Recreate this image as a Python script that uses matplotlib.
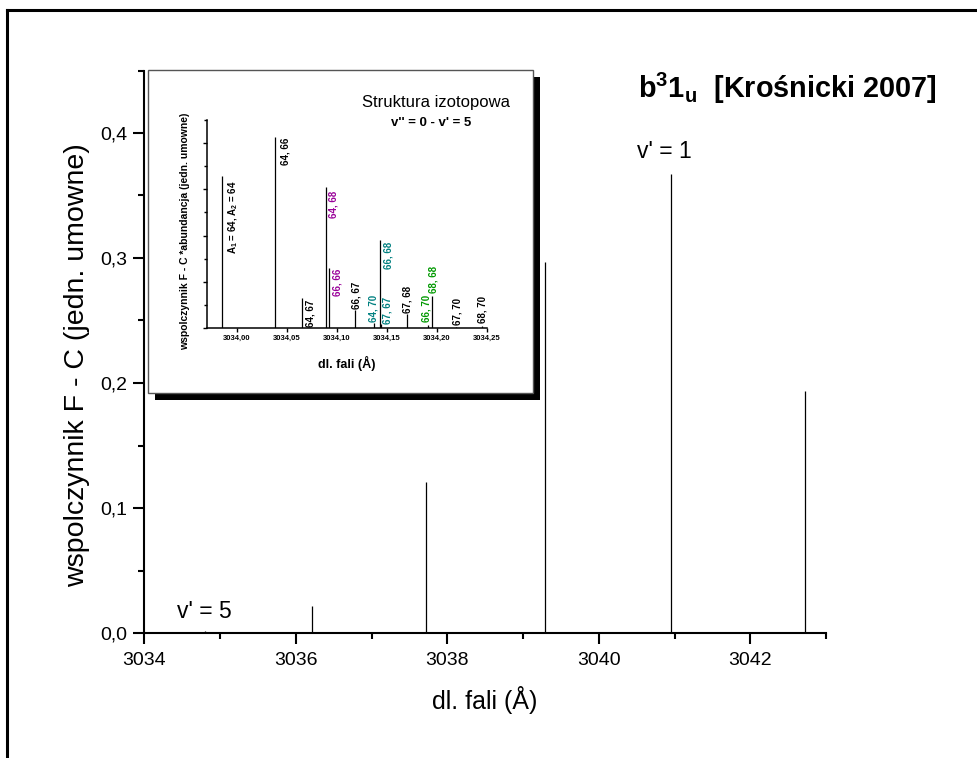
import matplotlib
matplotlib.use('Agg')
import matplotlib.pyplot as plt
from matplotlib.patches import Rectangle
from matplotlib.lines import Line2D
from matplotlib.ticker import MultipleLocator, FuncFormatter, FixedLocator
import matplotlib.transforms as mtransforms

plt.rcParams['font.family'] = ['Liberation Sans', 'DejaVu Sans']
plt.rcParams['mathtext.fontset'] = 'custom'
plt.rcParams['mathtext.rm'] = 'Liberation Sans'
plt.rcParams['mathtext.bf'] = 'Liberation Sans:bold'
plt.rcParams['mathtext.it'] = 'Liberation Sans:italic'

# ---------------- data ----------------
main_wavelengths = [3034.80, 3036.22, 3037.72, 3039.29, 3040.96, 3042.72]
main_values = [0.002, 0.022, 0.121, 0.297, 0.367, 0.194]
main_xticks = [3034, 3036, 3038, 3040, 3042]
main_yticks = [0.0, 0.1, 0.2, 0.3, 0.4]

iso_labels = [r'A$_\mathbf{1}$ = 64, A$_\mathbf{2}$ = 64', '64, 66', '64, 67', '64, 68', '66, 66',
              '66, 67', '64, 70', '66, 68', '67, 67', '67, 68', '66, 70', '68, 68',
              '67, 70', '68, 70']
iso_wavelengths = [3033.9856, 3034.0386, 3034.0650, 3034.0893, 3034.0923,
                   3034.1180, 3034.1376, 3034.1430, 3034.1445, 3034.1700,
                   3034.1916, 3034.1950, 3034.2193, 3034.2450]
iso_values = [0.328, 0.413, 0.065, 0.304, 0.130,
              0.040, 0.010, 0.190, 0.008, 0.030,
              0.007, 0.069, 0.003, 0.004]
iso_xticks = [3034.00, 3034.05, 3034.10, 3034.15, 3034.20, 3034.25]

# ---------------- style ----------------
BLACK, PURPLE, TEAL, GREEN = '#000000', '#990099', '#008080', '#009900'
iso_colors = [BLACK, BLACK, BLACK, PURPLE, PURPLE, BLACK, TEAL, TEAL, TEAL,
              BLACK, GREEN, GREEN, BLACK, BLACK]
# (mode, dx px, dy px)
iso_place = [('right', 4.5, -4), ('right', 5, -1), ('right', 4, -2), ('right', 2.5, -3),
             ('right', 4, -1), ('above', 1.5, 1), ('above', -1, 1), ('right', 4, -2),
             ('above', 6, 0), ('above', 1, 1), ('above', -2, 3), ('above', 2, 3),
             ('above', 1.5, 1.5), ('above', 1, 3)]

W, H = 978, 758
fig = plt.figure(figsize=(W / 100, H / 100), dpi=100)
fig.patch.set_facecolor('white')


def fx(px):
    return px / W


def fy(py):
    return 1 - py / H


def comma(fmt):
    return FuncFormatter(lambda v, p: format(v, fmt).replace('.', ','))


# ---------------- main axes ----------------
ax = fig.add_axes([fx(144.3), fy(633), fx(826) - fx(144.3), fy(70.5) - fy(633)])
ax.vlines(main_wavelengths, 0, main_values, color='black', lw=0.9)
ax.set_xlim(3034, 3043)
ax.set_ylim(0, 0.45)
for s in ('top', 'right'):
    ax.spines[s].set_visible(False)
for s in ('left', 'bottom'):
    ax.spines[s].set_linewidth(1.5)
ax.xaxis.set_major_locator(FixedLocator(main_xticks))
ax.xaxis.set_minor_locator(MultipleLocator(1))
ax.yaxis.set_major_locator(FixedLocator(main_yticks))
ax.yaxis.set_minor_locator(MultipleLocator(0.05))
ax.yaxis.set_major_formatter(comma('.1f'))
ax.xaxis.set_major_formatter(FuncFormatter(lambda v, p: f'{v:.0f}'))
ax.tick_params(which='major', length=8, width=1.5, labelsize=14, direction='out')
ax.tick_params(axis='x', which='major', pad=6)
ax.tick_params(axis='y', which='major', pad=4)
ax.tick_params(which='minor', length=4.5, width=1.5, direction='out')
ax.set_xlabel('dl. fali (Å)', fontsize=18)
ax.set_ylabel('wspolczynnik F - C (jedn. umowne)', fontsize=20.5)
ax.xaxis.set_label_coords(0.5, -0.094)
ax.yaxis.set_label_coords(-0.08, 0.476)

ax.text(3034.43, 0.017, "v' = 5", fontsize=16.5, ha='left', va='center')
ax.text(3040.51, 0.385, "v' = 1", fontsize=16.5, ha='left', va='center')

fig.text(fx(638), fy(88), r'$\mathbf{b^{3}1_{u}}$  [Krośnicki 2007]', fontsize=20.8,
         fontweight='bold', ha='left', va='center')

# ---------------- inset box ----------------
shadow = Rectangle((fx(155), fy(400)), fx(540) - fx(155), fy(77) - fy(400),
                   transform=fig.transFigure, facecolor='black', edgecolor='none', zorder=1.8)
box = Rectangle((fx(148), fy(393)), fx(533) - fx(148), fy(70) - fy(393),
                transform=fig.transFigure, facecolor='white', edgecolor='#555555', lw=1.0,
                zorder=1.9)
fig.add_artist(shadow)
fig.add_artist(box)

iax = fig.add_axes([fx(206.7), fy(328), fx(486.7) - fx(206.7), fy(120) - fy(328)])
iax.set_zorder(3)
iax.patch.set_visible(False)
iax.vlines(iso_wavelengths, 0, iso_values, color='black', lw=0.9)
iax.set_xlim(3033.97, 3034.25)
iax.set_ylim(0, 0.45)
for s in ('top', 'right'):
    iax.spines[s].set_visible(False)
for s in ('left', 'bottom'):
    iax.spines[s].set_linewidth(1.1)
iax.xaxis.set_major_locator(FixedLocator(iso_xticks))
iax.xaxis.set_major_formatter(comma('.2f'))
iax.yaxis.set_major_locator(MultipleLocator(0.1))
iax.yaxis.set_minor_locator(MultipleLocator(0.05))
iax.yaxis.set_major_formatter(FuncFormatter(lambda v, p: ''))
iax.tick_params(which='major', length=3.2, width=1.0, labelsize=5.5, direction='out', pad=2)
iax.tick_params(which='minor', length=2, width=1.0, direction='out')
for lab in iax.get_xticklabels():
    lab.set_fontweight('bold')
iax.set_xlabel('dl. fali (Å)', fontsize=9, fontweight='bold')
iax.set_ylabel('wspolczynnik F - C *abundancja (jedn. umowne)', fontsize=7.5, fontweight='bold')
iax.xaxis.set_label_coords(0.5, -0.135)
iax.yaxis.set_label_coords(-0.06, 0.466)

for lab, xv, yv, col, (mode, dx, dy) in zip(iso_labels, iso_wavelengths, iso_values,
                                            iso_colors, iso_place):
    off = mtransforms.offset_copy(iax.transData, fig=fig, x=dx, y=dy, units='dots')
    if mode == 'right':
        iax.text(xv, yv, lab, transform=off, rotation=90, ha='left', va='top',
                 fontsize=7, fontweight='bold', color=col)
    else:
        iax.text(xv, yv, lab, transform=off, rotation=90, ha='center', va='bottom',
                 fontsize=7, fontweight='bold', color=col)

fig.text(fx(436), fy(103), 'Struktura izotopowa', fontsize=12, ha='center', va='center',
         zorder=4)
fig.text(fx(431.5), fy(123), "v'' = 0 - v' = 5", fontsize=9.5, fontweight='bold',
         ha='center', va='center', zorder=4)

# ---------------- outer frame ----------------
fig.add_artist(Line2D([fx(7), fx(7)], [fy(10), 0], transform=fig.transFigure,
                      color='black', lw=2.2))
fig.add_artist(Line2D([fx(7), 1], [fy(10), fy(10)], transform=fig.transFigure,
                      color='black', lw=2.2))

fig.savefig('out.png', dpi=100, facecolor='white')
